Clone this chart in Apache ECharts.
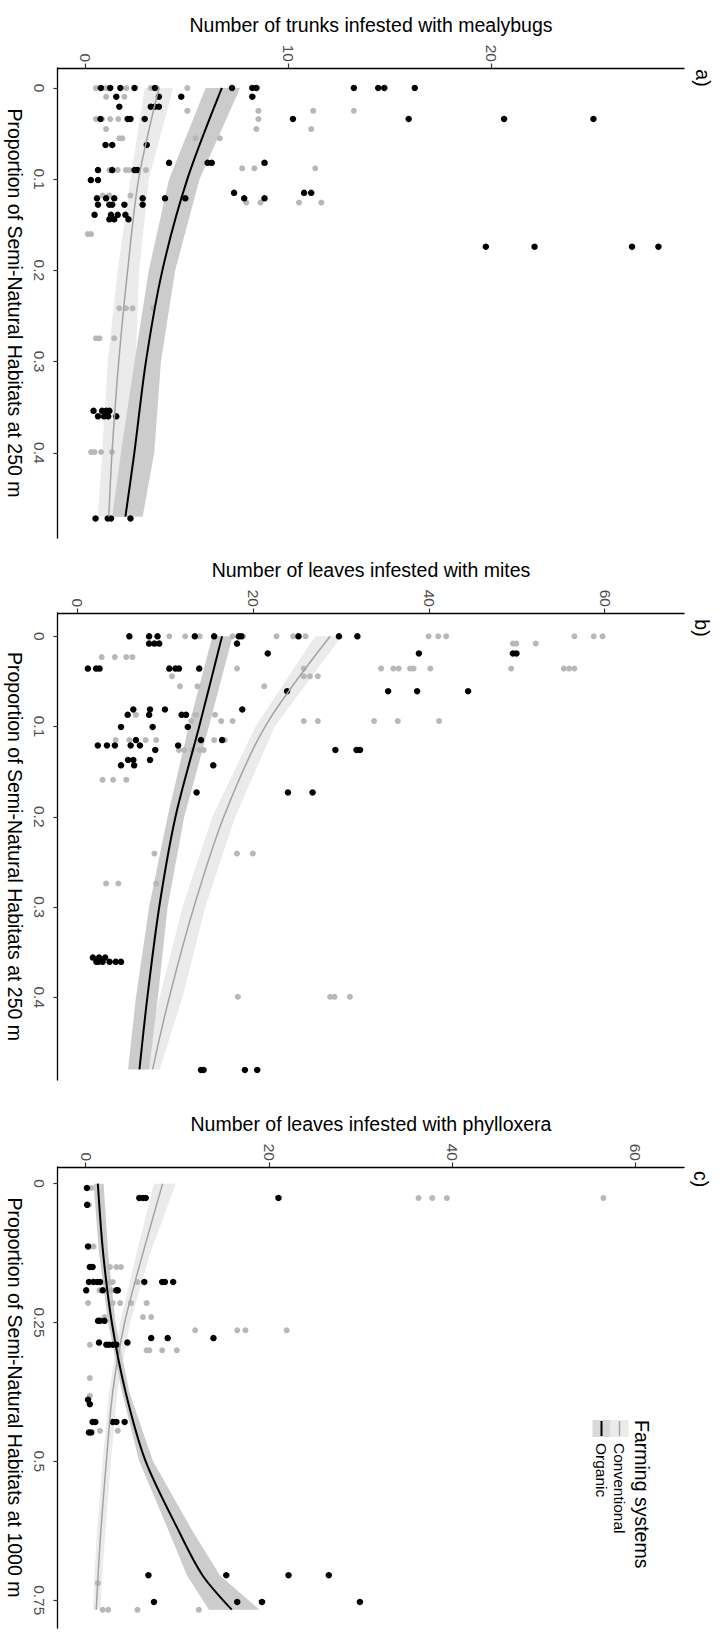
<!DOCTYPE html>
<html><head><meta charset="utf-8">
<script src="https://cdn.jsdelivr.net/npm/echarts@6/dist/echarts.min.js"></script>
<style>
html,body{margin:0;padding:0;background:#fff;overflow:hidden;width:724px;height:1644px;}
#chart{position:absolute;left:0;top:0;width:1644px;height:724px;transform-origin:0 0;transform:translate(724px,0) rotate(90deg);}
</style></head><body><div id="chart"></div>
<script>
// ---------- DATA ----------
// Tick labels
const aPropTicks = [0, 0.1, 0.2, 0.3, 0.4];
const bPropTicks = [0, 0.1, 0.2, 0.3, 0.4];
const cPropTicks = [0, 0.25, 0.5, 0.75];
const aCountTicks = [0, 10, 20];
const bCountTicks = [0, 20, 40, 60];
const cCountTicks = [0, 20, 40, 60];
const groups = ['Conventional', 'Organic'];

// Points: [proportion, list of counts at that proportion]
const aOrganicRows = [
  [0, [0.74, 1.2, 1.7, 2.4, 3.4, 7.2, 8.2, 8.4, 13.2, 14.4, 14.7, 16.2]],
  [0.0095, [1.5, 3.6, 4.7, 8.2]],
  [0.0205, [1.65, 3.2, 3.4, 3.6]],
  [0.034, [0.72, 2.06, 2.2, 2.9, 10.2, 15.9, 20.6, 25.0]],
  [0.0625, [0.97, 1.3, 3.0]],
  [0.082, [4.1, 6.0, 6.2, 8.8]],
  [0.09, [0.6, 1.3, 2.4, 2.55]],
  [0.101, [0.25, 0.6]],
  [0.115, [7.3, 10.75, 11.1]],
  [0.121, [0.55, 1.0, 1.4, 2.8, 3.9, 4.9, 7.8, 8.8]],
  [0.128, [0.6, 1.16, 1.3, 1.9, 2.8]],
  [0.139, [0.43, 1.24, 1.57, 1.95]],
  [0.144, [1.16, 1.4, 2.1]],
  [0.174, [19.7, 22.1, 26.9, 28.2]],
  [0.354, [0.38, 0.8, 1.0, 1.16]],
  [0.36, [0.6, 0.9, 1.1, 1.5]],
  [0.472, [0.48, 1.08, 1.24, 2.2]]
];
const aConventionalRows = [
  [0, [0.5, 0.8, 1.0, 2.0, 3.2, 3.5, 5.0]],
  [0.0095, [1.0, 1.9]],
  [0.025, [5.0, 8.5, 11.2, 13.2]],
  [0.034, [0.5, 0.8, 1.2, 1.6, 8.5]],
  [0.045, [1.0, 8.4, 11.1]],
  [0.055, [1.65, 1.8, 5.4, 6.6]],
  [0.088, [7.7, 8.3, 11.3]],
  [0.09, [1.16, 1.57, 1.98, 2.14, 2.96]],
  [0.118, [0.83, 1.16, 2.2]],
  [0.1257, [7.9, 8.6, 10.5, 11.6]],
  [0.16, [0.1, 0.26]],
  [0.2416, [1.65, 1.98, 2.3, 3.3]],
  [0.2745, [0.5, 0.67, 1.4]],
  [0.399, [0.26, 0.43, 0.75, 1.29]]
];
const bOrganicRows = [
  [0, [5.85, 8.1, 9.06, 13.3, 15.5, 18.3, 18.6, 25.1, 29.7, 31.8]],
  [0.008, [8.1, 8.7, 9.25, 18.1]],
  [0.019, [21.6, 38.8, 49.5, 49.9]],
  [0.0358, [1.13, 2.07, 2.46, 10.4, 11.1, 11.5, 13.8]],
  [0.0609, [23.8, 35.3, 38.6, 44.4]],
  [0.081, [6.3, 8.2, 9.9, 18.7]],
  [0.087, [5.66, 8.1, 11.8, 12.3]],
  [0.1005, [4.9, 8.5, 12.5]],
  [0.115, [6.6, 14.0, 16.4]],
  [0.121, [2.26, 3.3, 4.2, 6.0, 7.05, 11.4]],
  [0.126, [8.8, 29.3, 31.7, 32.1]],
  [0.137, [5.7, 6.3, 8.2]],
  [0.143, [4.9, 6.4, 15.4]],
  [0.173, [13.5, 23.9, 26.7]],
  [0.356, [1.7, 2.4, 3.1]],
  [0.3607, [2.1, 2.3, 2.8, 3.6, 4.3, 4.9]],
  [0.4806, [14.0, 14.3, 19.0, 20.4]]
];
const bConventionalRows = [
  [0, [10.4, 12.2, 13.85, 17.6, 18.8, 22.6, 24.5, 25.9, 39.9, 41.0, 41.9, 56.5, 58.7, 59.7]],
  [0.008, [49.5, 49.9, 52.1]],
  [0.023, [2.7, 4.2, 5.5, 6.2]],
  [0.0358, [18.1, 25.7, 34.5, 35.9, 36.5, 37.8, 38.2, 40.1, 49.3, 55.3, 55.9, 56.5]],
  [0.0443, [10.7, 25.7, 26.4, 27.3]],
  [0.0554, [11.6, 13.6, 21.2]],
  [0.087, [6.6, 13.4, 15.6]],
  [0.094, [12.9, 16.3, 17.6, 25.7, 27.3, 33.7, 36.4, 41.1]],
  [0.115, [4.3, 5.85, 7.7, 8.9, 15.5, 16.7]],
  [0.126, [11.5, 12.1, 13.0, 13.8, 14.3]],
  [0.159, [2.8, 4.0, 5.5]],
  [0.2406, [8.7, 18.1, 19.9]],
  [0.274, [3.2, 4.6, 8.9]],
  [0.3994, [18.2, 28.7, 29.2, 30.95]]
];
const cOrganicRows = [
  [0.0078, [0.08]],
  [0.0258, [5.8, 6.2, 6.5, 21.0]],
  [0.038, [0.1]],
  [0.113, [0.2]],
  [0.15, [0.4, 0.7]],
  [0.177, [0.3, 0.8, 1.2, 1.5, 6.35, 8.3, 8.6, 9.5]],
  [0.192, [0, 1.8, 3.3, 3.45]],
  [0.247, [1.3, 1.5, 2.0]],
  [0.278, [7.1, 8.9, 13.9]],
  [0.286, [1.4, 4.5]],
  [0.29, [2.2, 2.5, 2.9, 3.3]],
  [0.389, [0.2]],
  [0.397, [0.4]],
  [0.429, [0.7, 1.0, 2.9, 3.3, 4.2]],
  [0.448, [0.3, 0.55]],
  [0.705, [6.8, 15.3, 22.1, 26.5]],
  [0.753, [7.4, 16.5, 19.2, 29.9]]
];
const cConventionalRows = [
  [0.0078, [0.55]],
  [0.0258, [36.3, 37.8, 39.4, 56.5]],
  [0.038, [0.3]],
  [0.113, [0.4, 0.8]],
  [0.15, [2.6, 3.3, 3.8]],
  [0.177, [1.8, 2.5, 2.9, 5.6]],
  [0.192, [1.45, 2.2, 2.8]],
  [0.215, [0.2, 2.9, 3.7, 4.9, 6.6]],
  [0.24, [2.0, 6.2, 7.1]],
  [0.264, [11.9, 16.5, 17.4, 21.9]],
  [0.29, [0.4]],
  [0.3, [6.6, 6.9, 8.3, 9.9]],
  [0.35, [0.4]],
  [0.382, [0.4]],
  [0.445, [1.5, 3.45]],
  [0.719, [1.27]],
  [0.767, [1.8, 2.4, 5.6, 12.3]]
];

// Fitted curves and confidence ribbons
const aCurveP   = [0, 0.1, 0.2, 0.3, 0.4, 0.47];
const aOrgFit   = [6.7, 5.0, 3.77, 2.96, 2.39, 1.95];
const aOrgLo    = [5.9, 4.1, 3.1, 2.4, 1.73, 1.3];
const aOrgHi    = [7.6, 5.6, 4.4, 3.7, 3.37, 2.8];
const aConvFit  = [3.6, 2.6, 2.06, 1.62, 1.29, 1.13];
const aConvLo   = [2.9, 2.2, 1.57, 1.08, 0.8, 0.59];
const aConvHi   = [4.3, 3.1, 2.63, 2.45, 2.2, 2.06];

const bCurveP   = [0, 0.1, 0.2, 0.3, 0.4, 0.48];
const bOrgFit   = [16.4, 13.8, 11.1, 9.25, 7.9, 7.0];
const bOrgLo    = [15.3, 12.6, 10.2, 8.1, 6.6, 5.7];
const bOrgHi    = [17.6, 14.9, 12.1, 10.2, 9.1, 8.1];
const bConvFit  = [28.7, 21.3, 16.6, 13.2, 10.4, 8.5];
const bConvLo   = [27.0, 20.2, 15.3, 11.9, 9.3, 7.4];
const bConvHi   = [30.0, 22.4, 17.9, 14.5, 11.9, 9.3];

const cCurveP   = [0, 0.125, 0.25, 0.375, 0.5, 0.625, 0.705, 0.767];
const cOrgFit   = [1.27, 1.85, 2.8, 4.3, 6.5, 10.1, 12.7, 15.9];
const cOrgLo    = [0.8, 1.4, 2.4, 3.9, 5.8, 9.0, 11.0, 13.4];
const cOrgHi    = [1.9, 2.4, 3.2, 4.7, 7.3, 11.6, 14.6, 18.9];
const cConvFit  = [8.35, 6.2, 4.2, 2.9, 2.2, 1.6, 1.3, 1.1];
const cConvLo   = [7.4, 5.5, 3.7, 2.5, 1.8, 1.2, 0.9, 0.75];
const cConvHi   = [9.8, 7.0, 4.8, 3.4, 2.7, 2.1, 1.75, 1.55];

// Texts
const aCountTitle = 'Number of trunks infested with mealybugs';
const bCountTitle = 'Number of leaves infested with mites';
const cCountTitle = 'Number of leaves infested with phylloxera';
const aPropTitle = 'Proportion of Semi-Natural Habitats at 250 m';
const bPropTitle = 'Proportion of Semi-Natural Habitats at 250 m';
const cPropTitle = 'Proportion of Semi-Natural Habitats at 1000 m';
const panelTags = ['a)', 'b)', 'c)'];
const legendTitle = 'Farming systems';

// ---------- CHART ----------
const FONT = '"Liberation Sans", Arial, sans-serif';
const ORG = '#000000';
const CONV_PT = '#b8b8b8';
const CONV_LINE = '#a3a3a3';
const ORG_RIB = '#cccccc';
const CONV_RIB = '#ebebeb';

function expand(rows) {
  const out = [];
  rows.forEach(r => r[1].forEach(n => out.push([r[0], n])));
  return out;
}
function zip(p, v) { return p.map((x, i) => [x, v[i]]); }

const panels = [
  {grid:{left:68, top:40, width:470, height:629}, xr:[-0.0219, 0.4934], yr:[-1.37, 29.46],
   xt:aPropTicks, yt:aCountTicks, xn:aPropTitle, yn:aCountTitle,
   org:aOrganicRows, conv:aConventionalRows, cp:aCurveP,
   of:aOrgFit, ol:aOrgLo, oh:aOrgHi, cf:aConvFit, cl:aConvLo, ch:aConvHi, tag:[78, 21.5]},
  {grid:{left:613, top:40, width:467, height:629}, xr:[-0.0258, 0.4917], yr:[-2.27, 68.97],
   xt:bPropTicks, yt:bCountTicks, xn:bPropTitle, yn:bCountTitle,
   org:bOrganicRows, conv:bConventionalRows, cp:bCurveP,
   of:bOrgFit, ol:bOrgLo, oh:bOrgHi, cf:bConvFit, cl:bConvLo, ch:bConvHi, tag:[628, 22]},
  {grid:{left:1167, top:40, width:461, height:629}, xr:[-0.030, 0.800], yr:[-3.08, 65.3],
   xt:cPropTicks, yt:cCountTicks, xn:cPropTitle, yn:cCountTitle,
   org:cOrganicRows, conv:cConventionalRows, cp:cCurveP,
   of:cOrgFit, ol:cOrgLo, oh:cOrgHi, cf:cConvFit, cl:cConvLo, ch:cConvHi, tag:[1179, 23]}
];

const grid = [], xAxis = [], yAxis = [], series = [], graphic = [];

function ribbon(gi, ps, lo, hi, color, name) {
  return {
    type:'custom', name:name, xAxisIndex:gi, yAxisIndex:gi, data:[0], silent:true, z:1,
    renderItem:function(params, api){
      const pts = [];
      for (let i = 0; i < ps.length; i++) pts.push(api.coord([ps[i], hi[i]]));
      for (let i = ps.length - 1; i >= 0; i--) pts.push(api.coord([ps[i], lo[i]]));
      return {type:'polygon', shape:{points:pts}, style:{fill:color}};
    }
  };
}

panels.forEach((P, i) => {
  grid.push(P.grid);
  xAxis.push({
    gridIndex:i, type:'value', min:P.xr[0], max:P.xr[1], position:'bottom',
    axisLine:{show:true, onZero:false, lineStyle:{color:'#000', width:1.3}},
    axisTick:{show:true, customValues:P.xt, length:4.5, lineStyle:{color:'#333', width:1.2}},
    axisLabel:{show:true, customValues:P.xt, margin:11, color:'#4d4d4d', fontSize:15.5, fontFamily:FONT},
    splitLine:{show:false},
    name:P.xn, nameLocation:'middle', nameGap:33,
    nameTextStyle:{color:'#000', fontSize:19.5, fontFamily:FONT}
  });
  yAxis.push({
    gridIndex:i, type:'value', min:P.yr[0], max:P.yr[1], position:'left',
    axisLine:{show:true, onZero:false, lineStyle:{color:'#000', width:1.3}},
    axisTick:{show:true, customValues:P.yt, length:4.5, lineStyle:{color:'#333', width:1.2}},
    axisLabel:{show:true, customValues:P.yt, margin:6, color:'#4d4d4d', fontSize:15.5, fontFamily:FONT},
    splitLine:{show:false},
    name:P.yn, nameLocation:'middle', nameRotate:90, nameGap:33,
    nameTextStyle:{color:'#000', fontSize:19.5, fontFamily:FONT}
  });
  series.push(ribbon(i, P.cp, P.cl, P.ch, CONV_RIB, groups[0] + ' CI'));
  series.push(ribbon(i, P.cp, P.ol, P.oh, ORG_RIB, groups[1] + ' CI'));
  series.push({type:'scatter', name:groups[0], xAxisIndex:i, yAxisIndex:i, data:expand(P.conv),
    symbol:'circle', symbolSize:6, itemStyle:{color:CONV_PT, opacity:1}, z:2, silent:true});
  series.push({type:'scatter', name:groups[1], xAxisIndex:i, yAxisIndex:i, data:expand(P.org),
    symbol:'circle', symbolSize:6.5, itemStyle:{color:ORG, opacity:1}, z:3, silent:true});
  series.push({type:'line', name:groups[0] + ' fit', xAxisIndex:i, yAxisIndex:i, data:zip(P.cp, P.cf),
    showSymbol:false, smooth:0.3, lineStyle:{color:CONV_LINE, width:1.5}, z:4, silent:true});
  series.push({type:'line', name:groups[1] + ' fit', xAxisIndex:i, yAxisIndex:i, data:zip(P.cp, P.of),
    showSymbol:false, smooth:0.3, lineStyle:{color:ORG, width:2}, z:5, silent:true});
  graphic.push({type:'text', x:P.tag[0], y:P.tag[1], z:10,
    style:{text:panelTags[i], fontSize:19.5, fontFamily:FONT, fill:'#000', align:'center', verticalAlign:'middle'}});
});

// Legend (drawn inside panel c)
graphic.push({type:'text', x:1420, y:82, style:{text:legendTitle, fontSize:19.5, fontFamily:FONT, fill:'#000', align:'left', verticalAlign:'middle'}});
graphic.push({type:'rect', shape:{x:1420, y:95.5, width:17, height:18}, style:{fill:CONV_RIB}});
graphic.push({type:'line', shape:{x1:1421, y1:104.5, x2:1436, y2:104.5}, style:{stroke:CONV_LINE, lineWidth:1.5}});
graphic.push({type:'text', x:1443, y:104.5, style:{text:groups[0], fontSize:15.5, fontFamily:FONT, fill:'#000', align:'left', verticalAlign:'middle'}});
graphic.push({type:'rect', shape:{x:1420, y:113.5, width:17, height:18}, style:{fill:'#d9d9d9'}});
graphic.push({type:'line', shape:{x1:1421, y1:122.5, x2:1436, y2:122.5}, style:{stroke:ORG, lineWidth:2}});
graphic.push({type:'text', x:1443, y:122.5, style:{text:groups[1], fontSize:15.5, fontFamily:FONT, fill:'#000', align:'left', verticalAlign:'middle'}});

const chart = echarts.init(document.getElementById('chart'), null, {renderer:'svg'});
chart.setOption({
  animation:false,
  backgroundColor:'#ffffff',
  grid:grid, xAxis:xAxis, yAxis:yAxis, series:series, graphic:graphic
});
</script></body></html>
